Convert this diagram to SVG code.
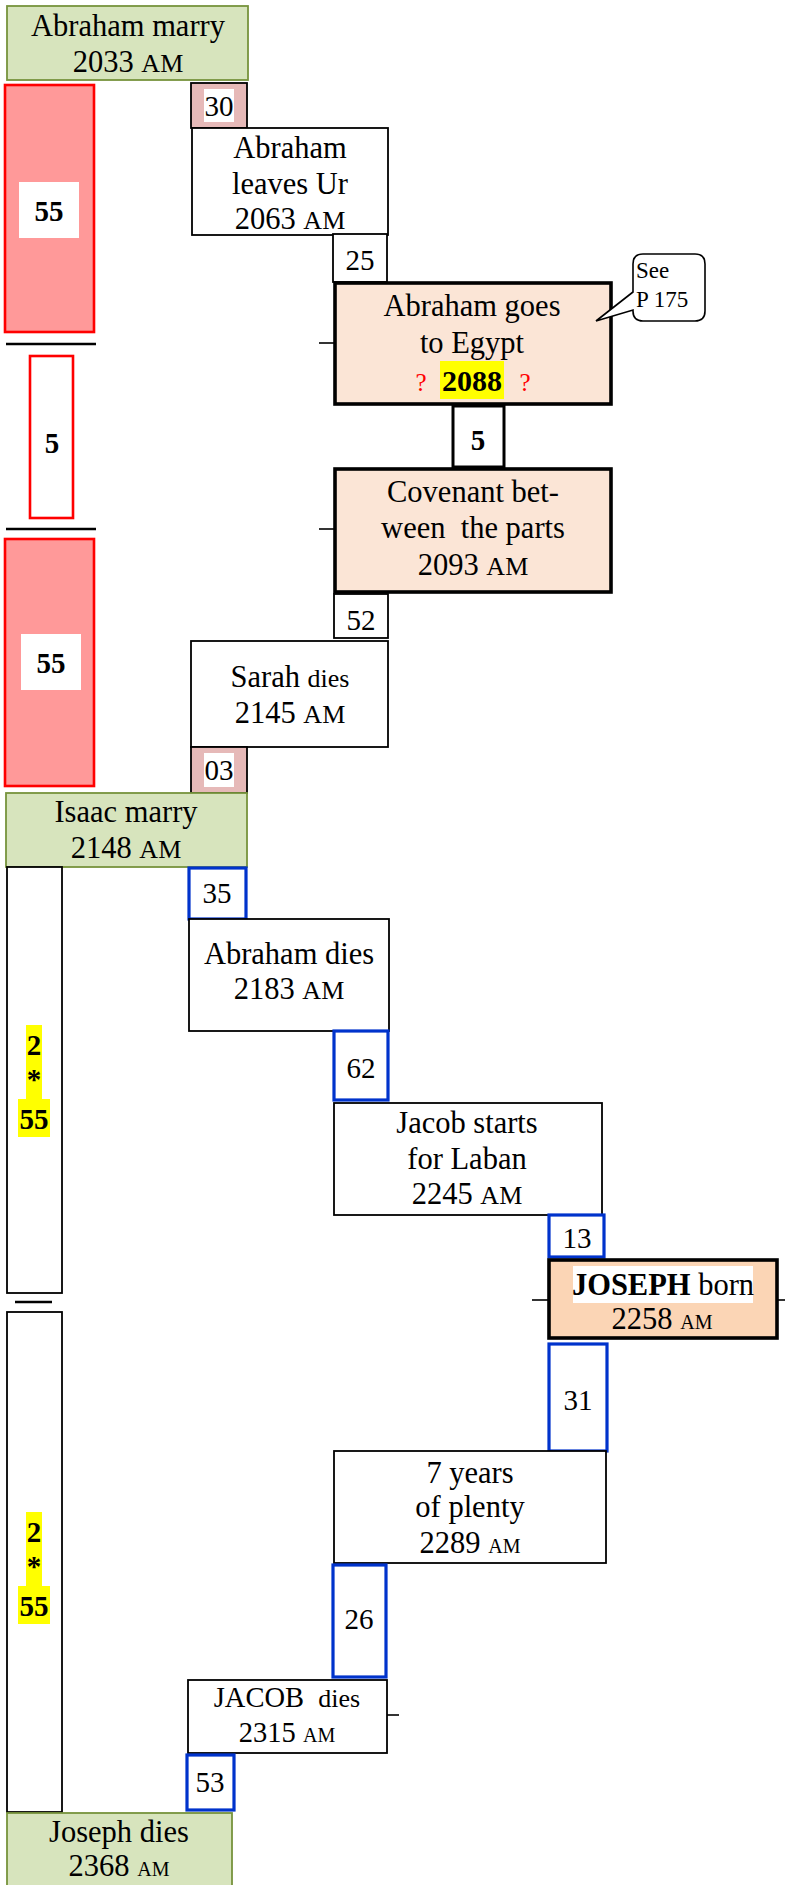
<svg xmlns="http://www.w3.org/2000/svg" width="785" height="1885" viewBox="0 0 785 1885">
<style>
text{font-family:"Liberation Serif","Times New Roman",serif;fill:#000;}
.t{font-size:30.5px;text-anchor:middle;white-space:pre;}
.n{font-size:29px;text-anchor:middle;}
.b{font-weight:bold;}
.am{font-size:26px;}
.ams{font-size:20px;}
.q{font-size:25px;fill:#ff0000;text-anchor:middle;}
.green{fill:#d7e4bd;stroke:#77933c;stroke-width:1.8;}
.redf{fill:#ff9999;stroke:#ff0000;stroke-width:2.6;}
.pink{fill:#e6b9b8;stroke:#000;stroke-width:1.8;}
.plain{fill:#fff;stroke:#000;stroke-width:1.8;}
.blue{fill:#fff;stroke:#0033cc;stroke-width:3.2;}
.thick{fill:#fbe5d6;stroke:#000;stroke-width:3.6;}
.wbg{fill:#fff;stroke:none;}
.hl{fill:#ffff00;stroke:none;}
.ln{stroke:#000;stroke-width:1.6;fill:none;}
.sep{stroke:#000;stroke-width:2.6;fill:none;}
</style>

<g id="connectors">
<line class="sep" x1="6" y1="344" x2="96" y2="344"/>
<line class="sep" x1="6" y1="529" x2="96" y2="529"/>
<line class="sep" x1="15" y1="1302" x2="52" y2="1302"/>
<line class="ln" x1="319" y1="343" x2="335" y2="343"/>
<line class="ln" x1="319" y1="529" x2="335" y2="529"/>
<line class="ln" x1="532" y1="1300" x2="549" y2="1300"/>
<line class="ln" x1="777" y1="1300" x2="785" y2="1300"/>
<line class="ln" x1="387" y1="1715" x2="399" y2="1715"/>
</g>

<g id="abraham-marry">
<rect class="green" x="7" y="6" width="241" height="74"/>
<text class="t" x="128" y="36">Abraham marry</text>
<text class="t" x="128" y="72">2033 <tspan class="am">AM</tspan></text>
</g>

<g id="red55-1">
<rect class="redf" x="5" y="85" width="89" height="247"/>
<rect class="wbg" x="19" y="182" width="60" height="56"/>
<text class="n b" x="49" y="221">55</text>
</g>

<g id="n30">
<rect class="pink" x="191" y="83" width="56" height="45"/>
<rect class="wbg" x="204" y="89" width="30" height="33"/>
<text class="n" x="219" y="116">30</text>
</g>

<g id="leaves-ur">
<rect class="plain" x="192" y="128" width="196" height="107"/>
<text class="t" x="290" y="158">Abraham</text>
<text class="t" x="290" y="194">leaves Ur</text>
<text class="t" x="290" y="229">2063 <tspan class="am">AM</tspan></text>
</g>

<g id="n25">
<rect class="plain" x="333" y="234" width="54" height="48"/>
<text class="n" x="360" y="270">25</text>
</g>

<g id="egypt">
<rect class="thick" x="335" y="283" width="276" height="121"/>
<text class="t" x="472" y="316">Abraham goes</text>
<text class="t" x="472" y="353">to Egypt</text>
<rect class="hl" x="440" y="361" width="64" height="38"/>
<text class="n b" x="472" y="391" style="font-size:30px">2088</text>
<text class="q" x="421" y="391">?</text>
<text class="q" x="525" y="391">?</text>
</g>

<g id="callout">
<path d="M 643 254 L 695 254 Q 705 254 705 264 L 705 311 Q 705 321 695 321 L 643 321 Q 633 321 633 311 L 633 310 L 596 321 L 633 292 L 633 264 Q 633 254 643 254 Z" fill="#fff" stroke="#000" stroke-width="1.6"/>
<text x="636" y="278" style="font-size:23px">See</text>
<text x="636" y="307" style="font-size:23px">P 175</text>
</g>

<g id="n5">
<rect x="453" y="406" width="51" height="61" fill="#fff" stroke="#000" stroke-width="3"/>
<text class="n b" x="478" y="450">5</text>
</g>

<g id="covenant">
<rect class="thick" x="335" y="469" width="276" height="123"/>
<text class="t" x="473" y="502">Covenant bet-</text>
<text class="t" x="473" y="538" xml:space="preserve">ween  the parts</text>
<text class="t" x="473" y="575">2093 <tspan class="am">AM</tspan></text>
</g>

<g id="n52">
<rect class="plain" x="334" y="594" width="54" height="44"/>
<text class="n" x="361" y="630">52</text>
</g>

<g id="red5">
<rect x="30" y="356" width="43" height="162" fill="#fff" stroke="#ff0000" stroke-width="2.6"/>
<text class="n b" x="52" y="453">5</text>
</g>

<g id="red55-2">
<rect class="redf" x="5" y="539" width="89" height="247"/>
<rect class="wbg" x="21" y="634" width="60" height="56"/>
<text class="n b" x="51" y="673">55</text>
</g>

<g id="sarah">
<rect class="plain" x="191" y="641" width="197" height="106"/>
<text class="t" x="290" y="687">Sarah <tspan style="font-size:26px">dies</tspan></text>
<text class="t" x="290" y="723">2145 <tspan class="am">AM</tspan></text>
</g>

<g id="n03">
<rect class="pink" x="191" y="747" width="56" height="46"/>
<rect class="wbg" x="204" y="753" width="30" height="34"/>
<text class="n" x="219" y="780">03</text>
</g>

<g id="isaac-marry">
<rect class="green" x="6" y="793" width="241" height="74"/>
<text class="t" x="126" y="822">Isaac marry</text>
<text class="t" x="126" y="858">2148 <tspan class="am">AM</tspan></text>
</g>

<g id="bar1">
<rect class="plain" x="7" y="867" width="55" height="426"/>
<rect class="hl" x="26" y="1025" width="16" height="74"/>
<rect class="hl" x="18" y="1099" width="32" height="38"/>
<text class="n b" x="34" y="1055">2</text>
<text class="n b" x="34" y="1089">*</text>
<text class="n b" x="34" y="1129">55</text>
</g>

<g id="bar2">
<rect class="plain" x="7" y="1312" width="55" height="500"/>
<rect class="hl" x="26" y="1512" width="16" height="74"/>
<rect class="hl" x="18" y="1586" width="32" height="38"/>
<text class="n b" x="34" y="1542">2</text>
<text class="n b" x="34" y="1576">*</text>
<text class="n b" x="34" y="1616">55</text>
</g>

<g id="n35">
<rect class="blue" x="189" y="868" width="57" height="51"/>
<text class="n" x="217" y="903">35</text>
</g>

<g id="abraham-dies">
<rect class="plain" x="189" y="919" width="200" height="112"/>
<text class="t" x="289" y="964">Abraham dies</text>
<text class="t" x="289" y="999">2183 <tspan class="am">AM</tspan></text>
</g>

<g id="n62">
<rect class="blue" x="334" y="1031" width="54" height="69"/>
<text class="n" x="361" y="1078">62</text>
</g>

<g id="jacob-laban">
<rect class="plain" x="334" y="1103" width="268" height="112"/>
<text class="t" x="467" y="1133">Jacob starts</text>
<text class="t" x="467" y="1169">for Laban</text>
<text class="t" x="467" y="1204">2245 <tspan class="am">AM</tspan></text>
</g>

<g id="n13">
<rect class="blue" x="549" y="1215" width="55" height="42"/>
<text class="n" x="577" y="1248">13</text>
</g>

<g id="joseph-born">
<rect x="549" y="1260" width="228" height="78" fill="#fbd5b5" stroke="#000" stroke-width="3.6"/>
<rect class="wbg" x="573" y="1266" width="180" height="37"/>
<text class="t" x="663" y="1295"><tspan class="b">JOSEPH</tspan> born</text>
<text class="t" x="662" y="1329">2258 <tspan class="ams">AM</tspan></text>
</g>

<g id="n31">
<rect class="blue" x="549" y="1344" width="58" height="107"/>
<text class="n" x="578" y="1410">31</text>
</g>

<g id="plenty">
<rect class="plain" x="334" y="1451" width="272" height="112"/>
<text class="t" x="470" y="1483">7 years</text>
<text class="t" x="470" y="1517">of plenty</text>
<text class="t" x="470" y="1553">2289 <tspan class="ams">AM</tspan></text>
</g>

<g id="n26">
<rect class="blue" x="333" y="1565" width="53" height="112"/>
<text class="n" x="359" y="1629">26</text>
</g>

<g id="jacob-dies">
<rect class="plain" x="188" y="1680" width="199" height="73"/>
<text class="t" x="287" y="1707" xml:space="preserve" style="font-size:28.5px">JACOB  <tspan style="font-size:26px">dies</tspan></text>
<text class="t" x="287" y="1742" style="font-size:28.5px">2315 <tspan class="ams">AM</tspan></text>
</g>

<g id="n53">
<rect class="blue" x="187" y="1755" width="47" height="55"/>
<text class="n" x="210" y="1792">53</text>
</g>

<g id="joseph-dies">
<rect class="green" x="7" y="1813" width="225" height="80"/>
<text class="t" x="119" y="1842">Joseph dies</text>
<text class="t" x="119" y="1876">2368 <tspan class="ams">AM</tspan></text>
</g>
</svg>
